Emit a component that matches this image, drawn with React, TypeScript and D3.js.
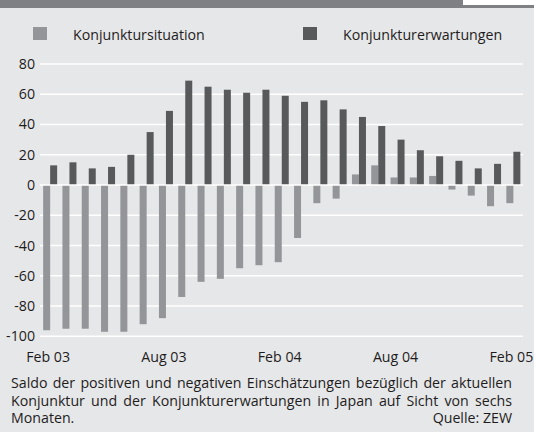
import { useEffect, useRef } from "react";
import * as d3 from "d3";

const months = [
  "Feb 03", "Mar 03", "Apr 03", "May 03", "Jun 03", "Jul 03", "Aug 03", "Sep 03", "Oct 03",
  "Nov 03", "Dec 03", "Jan 04", "Feb 04", "Mar 04", "Apr 04", "May 04", "Jun 04", "Jul 04",
  "Aug 04", "Sep 04", "Oct 04", "Nov 04", "Dec 04", "Jan 05", "Feb 05",
];
const situation = [-96, -95, -95, -97, -97, -92, -88, -74, -64, -62, -55, -53, -51, -35, -12, -9, 7, 13, 5, 5, 6, -3, -7, -14, -12];
const expectations = [13, 15, 11, 12, 20, 35, 49, 69, 65, 63, 61, 63, 59, 55, 56, 50, 45, 39, 30, 23, 19, 16, 11, 14, 22];
const yTicks = [80, 60, 40, 20, 0, -20, -40, -60, -80, -100];
const xLabels = ["Feb 03", "Aug 03", "Feb 04", "Aug 04", "Feb 05"];
const seriesNames = ["Konjunktursituation", "Konjunkturerwartungen"];
const footLines = [
  "Saldo der positiven und negativen Einschätzungen bezüglich der aktuellen",
  "Konjunktur und der Konjunkturerwartungen in Japan auf Sicht von sechs",
];
const footLast = "Monaten.";
const source = "Quelle: ZEW";

const W = 534;
const H = 432;
const FONT = "'Open Sans', sans-serif";
const FS = 14.2;
const INK = "#1e1c1d";
const BG = "#e6e7e8";
const LIGHT = "#939598";
const DARK = "#58595b";

export default function App() {
  const svgRef = useRef<SVGSVGElement | null>(null);

  useEffect(() => {
    const svg = d3.select(svgRef.current);
    svg.selectAll("*").remove();

    svg.append("rect").attr("width", W).attr("height", H).attr("fill", BG);
    // top band (cut-off header)
    svg.append("rect").attr("width", W).attr("height", 8).attr("fill", "#7f8083");
    svg.append("rect").attr("x", 463).attr("width", W - 463).attr("height", 5).attr("fill", "#ffffff");

    const x = d3.scaleBand<string>().domain(months).range([40.5, 523]).padding(0);
    const y = d3.scaleLinear().domain([-100, 80]).range([336.3, 64]);
    const barW = 7;

    const g = svg.append("g");

    // grid
    g.selectAll("line.grid")
      .data(yTicks.filter(d => d !== 0))
      .join("line")
      .attr("class", "grid")
      .attr("x1", 40).attr("x2", 523)
      .attr("y1", d => y(d)).attr("y2", d => y(d))
      .attr("stroke", "#ffffff").attr("stroke-width", 1.5);

    const cx = (m: string) => (x(m) as number) + x.bandwidth() / 2;

    g.selectAll("rect.sit")
      .data(situation)
      .join("rect")
      .attr("class", "sit")
      .attr("x", (d, i) => cx(months[i]) - barW)
      .attr("width", barW)
      .attr("y", d => Math.min(y(d), y(0)))
      .attr("height", d => Math.abs(y(d) - y(0)))
      .attr("fill", LIGHT);

    g.selectAll("rect.exp")
      .data(expectations)
      .join("rect")
      .attr("class", "exp")
      .attr("x", (d, i) => cx(months[i]))
      .attr("width", barW)
      .attr("y", d => Math.min(y(d), y(0)))
      .attr("height", d => Math.abs(y(d) - y(0)))
      .attr("fill", DARK);

    g.append("line")
      .attr("x1", 40).attr("x2", 523)
      .attr("y1", y(0)).attr("y2", y(0))
      .attr("stroke", "#ffffff").attr("stroke-width", 1.5);

    // y labels
    g.selectAll("text.ytick")
      .data(yTicks)
      .join("text")
      .attr("class", "ytick")
      .attr("x", 35)
      .attr("y", d => y(d))
      .attr("dy", "0.35em")
      .attr("text-anchor", "end")
      .attr("font-family", FONT)
      .attr("font-size", FS)
      .attr("fill", INK)
      .text(d => String(d));

    // x labels
    g.selectAll("text.xtick")
      .data(xLabels)
      .join("text")
      .attr("class", "xtick")
      .attr("x", d => cx(d) - 2)
      .attr("y", 361.5)
      .attr("text-anchor", "middle")
      .attr("font-family", FONT)
      .attr("font-size", FS)
      .attr("fill", INK)
      .text(d => d);

    // legend
    const legendX = [33, 303];
    const legendCol = [LIGHT, DARK];
    seriesNames.forEach((name, i) => {
      svg.append("rect").attr("x", legendX[i]).attr("y", 27).attr("width", 14).attr("height", 13).attr("fill", legendCol[i]);
      svg.append("text")
        .attr("x", legendX[i] + 40).attr("y", 39.5)
        .attr("font-family", FONT).attr("font-size", FS).attr("fill", INK)
        .text(name);
    });

    // footnote, justified
    const left = 11;
    const right = 512;
    const lineH = 17.3;
    footLines.forEach((line, li) => {
      const words = line.split(" ");
      const t = svg.append("text")
        .attr("y", 388.3 + li * lineH)
        .attr("font-family", FONT).attr("font-size", FS).attr("fill", INK);
      const spans = words.map(w => t.append("tspan").text(w));
      const widths = spans.map(s => (s.node() as SVGTSpanElement).getComputedTextLength());
      const total = d3.sum(widths);
      const gap = (right - left - total) / (words.length - 1);
      let pos = left;
      spans.forEach((s, i) => {
        s.attr("x", pos);
        pos += widths[i] + gap;
      });
    });
    const lastY = 388.3 + 2 * lineH;
    svg.append("text").attr("x", left).attr("y", lastY)
      .attr("font-family", FONT).attr("font-size", FS).attr("fill", INK).text(footLast);
    svg.append("text").attr("x", right).attr("y", lastY).attr("text-anchor", "end")
      .attr("font-family", FONT).attr("font-size", FS).attr("fill", INK).text(source);
  }, []);

  return (
    <svg ref={svgRef} width={W} height={H} style={{ position: "absolute", left: 0, top: 0 }} />
  );
}
